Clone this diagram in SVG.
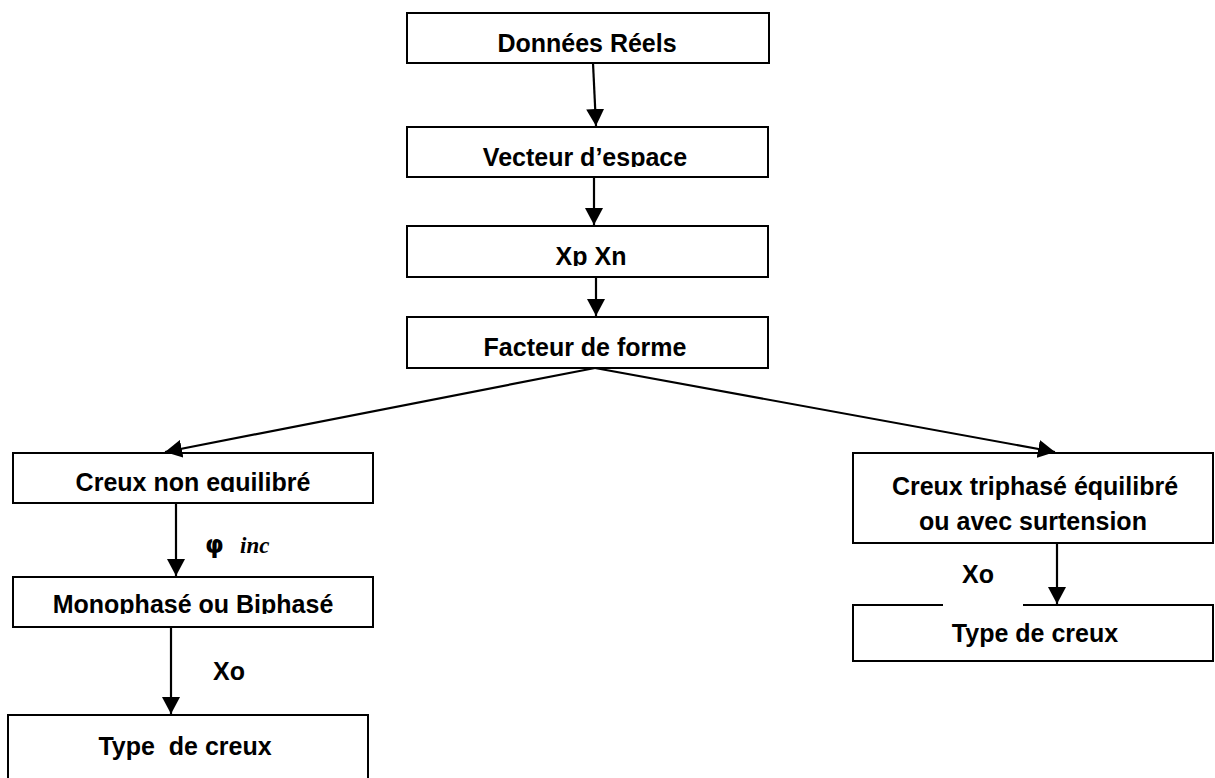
<svg xmlns="http://www.w3.org/2000/svg" width="1215" height="778" viewBox="0 0 1215 778">
  <style>
    .box { fill: #ffffff; stroke: #000000; stroke-width: 2; }
    .lbl { font-family: "Liberation Sans", Arial, sans-serif; font-weight: bold; font-size: 25px; fill: #000000; text-anchor: middle; white-space: pre; }
    .side { font-family: "Liberation Sans", Arial, sans-serif; font-weight: bold; font-size: 25px; fill: #000000; }
    .phi { font-family: "DejaVu Sans", "Liberation Sans", sans-serif; font-weight: bold; font-size: 24px; fill: #000000; }
    .inc { font-family: "Liberation Serif", "Times New Roman", serif; font-style: italic; font-weight: bold; font-size: 23px; fill: #000000; }
    .edge { fill: none; stroke: #000000; stroke-width: 2.2; }
  </style>
  <defs>
    <marker id="arrow" markerUnits="userSpaceOnUse" markerWidth="17" markerHeight="18" refX="17" refY="9" orient="auto">
      <path d="M0,0 L17,9 L0,18 z" fill="#000000"/>
    </marker>
    <!-- text frames clip the lines at their baseline -->
    <clipPath id="clip-vecteur"><rect x="407" y="127" width="361" height="40"/></clipPath>
    <clipPath id="clip-xp"><rect x="407" y="226" width="361" height="40"/></clipPath>
    <clipPath id="clip-creux"><rect x="13" y="453" width="360" height="39"/></clipPath>
    <clipPath id="clip-mono"><rect x="13" y="577" width="360" height="37"/></clipPath>
  </defs>

  <rect width="1215" height="778" fill="#ffffff"/>

  <g id="donnees">
    <rect class="box" x="407" y="13" width="362" height="50"/>
    <text class="lbl" x="587" y="52">Données Réels</text>
  </g>

  <g id="vecteur">
    <rect class="box" x="407" y="127" width="361" height="50"/>
    <text class="lbl" x="585" y="166" clip-path="url(#clip-vecteur)">Vecteur d’espace</text>
  </g>

  <g id="xpxn">
    <rect class="box" x="407" y="226" width="361" height="51"/>
    <text class="lbl" x="591" y="265" clip-path="url(#clip-xp)">Xp Xn</text>
  </g>

  <g id="facteur">
    <rect class="box" x="407" y="317" width="361" height="51"/>
    <text class="lbl" x="585" y="356">Facteur de forme</text>
  </g>

  <g id="creux-non-equilibre">
    <rect class="box" x="13" y="453" width="360" height="50"/>
    <text class="lbl" x="193" y="491" clip-path="url(#clip-creux)">Creux non equilibré</text>
  </g>

  <g id="mono-bi">
    <rect class="box" x="13" y="577" width="360" height="50"/>
    <text class="lbl" x="193" y="613" clip-path="url(#clip-mono)">Monophasé ou Biphasé</text>
  </g>

  <g id="type-gauche">
    <rect class="box" x="8" y="715" width="360" height="80"/>
    <text class="lbl" x="185" y="755">Type  de creux</text>
  </g>

  <g id="creux-triphase">
    <rect class="box" x="853" y="453" width="360" height="90"/>
    <text class="lbl" x="1035" y="495">Creux triphasé équilibré</text>
    <text class="lbl" x="1033" y="530">ou avec surtension</text>
  </g>

  <g id="type-droite">
    <rect class="box" x="853" y="605" width="360" height="56"/>
    <text class="lbl" x="1035" y="642">Type de creux</text>
  </g>

  <g id="connectors">
    <line class="edge" x1="593" y1="63" x2="596" y2="126" marker-end="url(#arrow)"/>
    <line class="edge" x1="594" y1="177" x2="594" y2="225" marker-end="url(#arrow)"/>
    <line class="edge" x1="596" y1="277" x2="596" y2="316" marker-end="url(#arrow)"/>
    <line class="edge" x1="595" y1="368" x2="165" y2="452" marker-end="url(#arrow)"/>
    <line class="edge" x1="595" y1="368" x2="1055" y2="452" marker-end="url(#arrow)"/>
    <line class="edge" x1="176" y1="503" x2="176" y2="576" marker-end="url(#arrow)"/>
    <line class="edge" x1="171" y1="627" x2="171" y2="714" marker-end="url(#arrow)"/>
    <line class="edge" x1="1057" y1="543" x2="1057" y2="604" marker-end="url(#arrow)"/>
  </g>

  <g id="edge-labels">
    <text class="phi" x="205" y="553">φ</text>
    <text class="inc" x="240" y="553">inc</text>
    <text class="side" x="213" y="680">Xo</text>
    <rect x="943" y="562" width="80" height="44" fill="#ffffff"/>
    <text class="side" x="962" y="583">Xo</text>
  </g>
</svg>
